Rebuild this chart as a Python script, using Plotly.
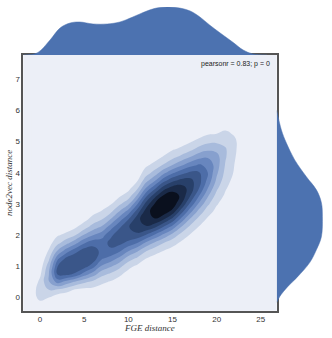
# KDE joint plot: FGE distance vs node2vec distance, with marginal densities.

import plotly.graph_objects as go

# density grid (columns = FGE distance, rows = node2vec distance)
grid_x = [-1, 0, 1, 2, 3, 4, 5, 6, 7, 8, 9, 10, 11, 12, 13, 14, 15, 16, 17, 18, 19, 20, 21, 22, 23, 24]
grid_y = [-0.5, -0.25, 0.0, 0.25, 0.5, 0.75, 1.0, 1.25, 1.5, 1.75, 2.0, 2.25, 2.5, 2.75,
          3.0, 3.25, 3.5, 3.75, 4.0, 4.25, 4.5, 4.75, 5.0, 5.25, 5.5, 5.75, 6.0]

density_cols = [
    [0, 1, 3, 2, 0, 0, 0, 0, 0, 0, 0, 0, 0, 0, 0, 0, 0, 0, 0, 0, 0, 0, 0, 0, 0, 0, 0],
    [0, 4, 14, 17, 13, 8, 4, 1, 0, 0, 0, 0, 0, 0, 0, 0, 0, 0, 0, 0, 0, 0, 0, 0, 0, 0, 0],
    [1, 3, 10, 20, 29, 30, 26, 18, 11, 6, 3, 1, 0, 0, 0, 0, 0, 0, 0, 0, 0, 0, 0, 0, 0, 0, 0],
    [0, 1, 4, 18, 44, 62, 60, 48, 31, 17, 9, 3, 1, 0, 0, 0, 0, 0, 0, 0, 0, 0, 0, 0, 0, 0, 0],
    [0, 0, 3, 14, 36, 63, 69, 63, 45, 27, 13, 5, 2, 0, 0, 0, 0, 0, 0, 0, 0, 0, 0, 0, 0, 0, 0],
    [0, 0, 2, 9, 28, 58, 69, 69, 56, 37, 20, 9, 3, 1, 0, 0, 0, 0, 0, 0, 0, 0, 0, 0, 0, 0, 0],
    [0, 0, 2, 7, 22, 45, 65, 69, 65, 49, 31, 16, 7, 3, 1, 0, 0, 0, 0, 0, 0, 0, 0, 0, 0, 0, 0],
    [0, 0, 2, 7, 17, 35, 54, 66, 65, 56, 40, 25, 14, 7, 3, 1, 0, 0, 0, 0, 0, 0, 0, 0, 0, 0, 0],
    [0, 0, 2, 5, 12, 23, 38, 51, 57, 55, 46, 32, 20, 11, 5, 2, 1, 0, 0, 0, 0, 0, 0, 0, 0, 0, 0],
    [0, 0, 1, 4, 9, 18, 31, 46, 58, 63, 58, 46, 31, 18, 9, 4, 1, 0, 0, 0, 0, 0, 0, 0, 0, 0, 0],
    [0, 0, 1, 2, 5, 12, 23, 37, 52, 63, 66, 59, 46, 31, 18, 9, 4, 1, 0, 0, 0, 0, 0, 0, 0, 0, 0],
    [0, 0, 0, 1, 2, 6, 13, 25, 41, 57, 68, 69, 60, 45, 28, 15, 7, 3, 1, 0, 0, 0, 0, 0, 0, 0, 0],
    [0, 0, 0, 0, 1, 3, 8, 18, 32, 50, 67, 77, 76, 65, 49, 32, 18, 9, 4, 1, 0, 0, 0, 0, 0, 0, 0],
    [0, 0, 0, 0, 0, 1, 4, 10, 21, 38, 59, 78, 88, 85, 74, 58, 41, 26, 15, 8, 4, 1, 0, 0, 0, 0, 0],
    [0, 0, 0, 0, 0, 1, 2, 6, 14, 28, 48, 71, 89, 96, 91, 77, 58, 39, 24, 13, 6, 3, 1, 0, 0, 0, 0],
    [0, 0, 0, 0, 0, 0, 1, 4, 10, 20, 37, 58, 80, 96, 100, 92, 76, 56, 37, 21, 11, 5, 2, 1, 0, 0, 0],
    [0, 0, 0, 0, 0, 0, 1, 2, 6, 14, 26, 45, 66, 86, 97, 96, 85, 67, 48, 30, 17, 9, 4, 2, 0, 0, 0],
    [0, 0, 0, 0, 0, 0, 0, 1, 3, 8, 16, 29, 46, 64, 80, 88, 85, 73, 56, 38, 23, 12, 6, 2, 1, 0, 0],
    [0, 0, 0, 0, 0, 0, 0, 1, 2, 4, 9, 17, 28, 43, 58, 70, 76, 73, 62, 46, 30, 17, 9, 4, 1, 0, 0],
    [0, 0, 0, 0, 0, 0, 0, 0, 1, 2, 4, 9, 16, 26, 38, 50, 60, 64, 61, 51, 37, 24, 13, 6, 3, 1, 0],
    [0, 0, 0, 0, 0, 0, 0, 0, 0, 1, 2, 4, 8, 14, 22, 31, 40, 47, 50, 48, 39, 28, 17, 9, 4, 1, 0],
    [0, 0, 0, 0, 0, 0, 0, 0, 0, 0, 1, 2, 4, 7, 11, 16, 22, 28, 32, 35, 34, 27, 18, 10, 5, 2, 0],
    [0, 0, 0, 0, 0, 0, 0, 0, 0, 0, 0, 1, 2, 3, 5, 8, 11, 14, 17, 19, 21, 21, 17, 12, 7, 3, 1],
    [0, 0, 0, 0, 0, 0, 0, 0, 0, 0, 0, 0, 1, 2, 3, 4, 5, 7, 9, 10, 11, 12, 12, 9, 6, 4, 2],
    [0, 0, 0, 0, 0, 0, 0, 0, 0, 0, 0, 0, 0, 0, 0, 0, 1, 2, 2, 3, 4, 4, 4, 3, 2, 1, 0],
    [0, 0, 0, 0, 0, 0, 0, 0, 0, 0, 0, 0, 0, 0, 0, 0, 0, 0, 0, 0, 0, 0, 0, 0, 0, 0, 0],
]

# marginal density of FGE distance (top)
top_x = [-1.9, -0.34, 1.13, 2.26, 3.4, 4.5, 6.0, 7.6, 9.05, 10.5, 12.1, 13.2, 14.4,
         15.8, 17.0, 18.1, 19.2, 20.4, 21.8, 23.0, 24.1, 25.7]
top_density = [0, 2, 15, 27, 32, 33, 31, 31, 33, 38, 44, 47, 48,
               47, 44, 38, 30, 22, 13, 5, 1, 0]

# marginal density of node2vec distance (right)
side_y = [6.0, 5.37, 4.95, 4.41, 3.87, 3.45, 3.04, 2.59, 1.95, 1.53, 1.12, 0.67, 0.35, 0.03, -0.16]
side_density = [0, 4.7, 9.7, 18, 29.7, 39.7, 44.7, 45.7, 44.7, 39.7, 33, 21, 11, 3, 0]

pearson_text = "pearsonr = 0.83; p = 0"

BG = "#ECEFF7"
BLUE = "#4C72B0"
level_colors = [BG, "#CAD5E8", "#A8BBDC", "#87A0CE", "#6886BE",
                "#4D6DA8", "#3A5689", "#28406A", "#1A2A48", "#0A101E"]

colorscale = []
for i, c in enumerate(level_colors):
    colorscale.append([i / 10, c])
    colorscale.append([(i + 1) / 10, c])

z = [list(row) for row in zip(*density_cols)]

fig = go.Figure()

fig.add_trace(go.Contour(
    x=grid_x,
    y=grid_y,
    z=z,
    zmin=0,
    zmax=100,
    colorscale=colorscale,
    contours=dict(start=10, end=90, size=10, coloring="fill", showlines=False),
    line=dict(width=0, smoothing=1.3),
    showscale=False,
    hoverinfo="skip",
))

fig.add_trace(go.Scatter(
    x=top_x,
    y=top_density,
    mode="lines",
    fill="tozeroy",
    fillcolor=BLUE,
    line=dict(color=BLUE, width=0.5, shape="spline"),
    xaxis="x",
    yaxis="y2",
    hoverinfo="skip",
))

fig.add_trace(go.Scatter(
    x=side_density,
    y=side_y,
    mode="lines",
    fill="tozerox",
    fillcolor=BLUE,
    line=dict(color=BLUE, width=0.5, shape="spline"),
    xaxis="x2",
    yaxis="y",
    hoverinfo="skip",
))

tick_font = dict(family="Liberation Sans, Arial, sans-serif", size=8, color="#333333")
label_font = dict(family="Liberation Serif, Times New Roman, serif", size=9, color="#333333")

fig.update_layout(
    template="none",
    width=332,
    height=338,
    margin=dict(l=0, r=0, t=0, b=0, pad=0),
    paper_bgcolor="white",
    plot_bgcolor="white",
    showlegend=False,
    xaxis=dict(
        domain=[0.0702, 0.8334],
        range=[-1.9, 26.8],
        tickvals=[0, 5, 10, 15, 20, 25],
        showgrid=False,
        zeroline=False,
        showline=True,
        mirror=True,
        linecolor="#555555",
        linewidth=1.5,
        ticks="",
        tickfont=tick_font,
        automargin=False,
        anchor="y",
    ),
    yaxis=dict(
        domain=[0.0808, 0.8373],
        range=[-0.42, 7.77],
        tickvals=[0, 1, 2, 3, 4, 5, 6, 7],
        showgrid=False,
        zeroline=False,
        showline=True,
        mirror=True,
        linecolor="#555555",
        linewidth=1.5,
        ticks="",
        tickfont=tick_font,
        automargin=False,
        anchor="x",
    ),
    yaxis2=dict(domain=[0.8373, 0.9793], range=[0, 48], visible=False,
                automargin=False, anchor="x"),
    xaxis2=dict(domain=[0.8334, 0.978], range=[0, 48], visible=False,
                automargin=False, anchor="y"),
    shapes=[dict(
        type="rect", xref="x domain", yref="y domain",
        x0=0, x1=1, y0=0, y1=1,
        fillcolor=BG, line=dict(width=0), layer="below",
    )],
    annotations=[
        dict(text="<i>FGE distance</i>", x=0.4518, y=0.0296, xref="paper", yref="paper",
             showarrow=False, font=label_font, xanchor="center", yanchor="middle"),
        dict(text="<i>node2vec distance</i>", x=0.027, y=0.4586, xref="paper", yref="paper",
             showarrow=False, font=label_font, textangle=-90, xanchor="center", yanchor="middle"),
        dict(text=pearson_text, x=0.8184, y=0.8107, xref="paper", yref="paper",
             showarrow=False, font=dict(family="Liberation Sans, Arial, sans-serif", size=7, color="#222222"),
             xanchor="right", yanchor="middle"),
    ],
)

# the page's default body margin would push the figure 8px off its place
fig.write_html(
    "out.html",
    config={"displayModeBar": False},
    post_script="document.body.style.margin = '0';",
)
